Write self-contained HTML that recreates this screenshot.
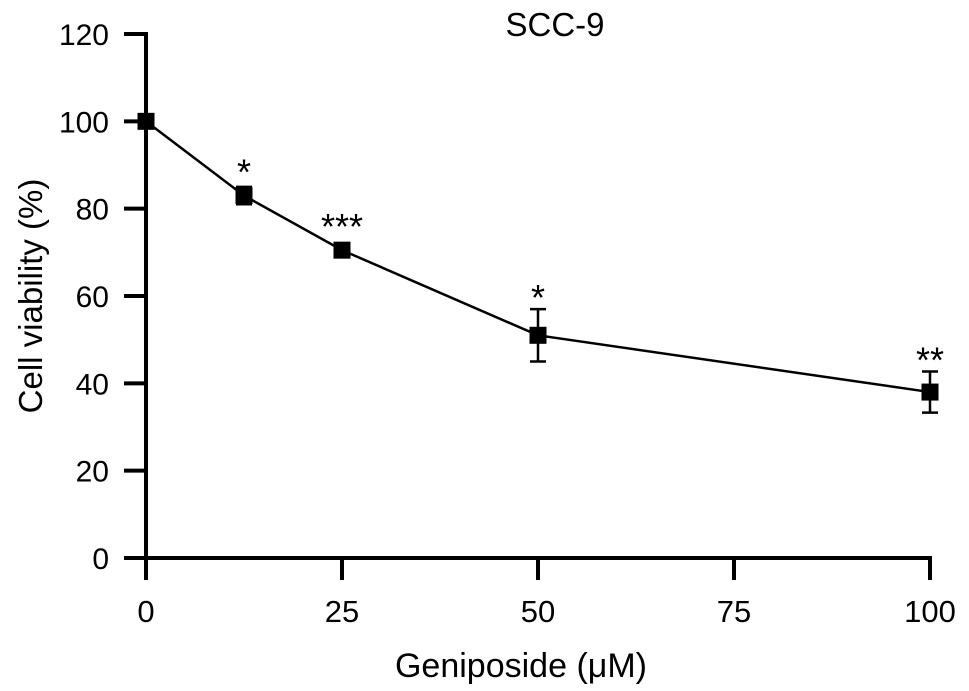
<!DOCTYPE html>
<html><head><meta charset="utf-8">
<style>
html,body{margin:0;padding:0;background:#fff;}
svg{display:block;font-family:"Liberation Sans",Arial,sans-serif;}
</style></head>
<body>
<svg id="chart" width="969" height="691"></svg>
<script>
const doses = [0, 12.5, 25, 50, 100];
const viability = [100, 83, 70.5, 51, 38];
const errors = [0.8, 2, 1, 6, 4.7];
const stars = ["", "*", "***", "*", "**"];
const xTicks = [0, 25, 50, 75, 100];
const yTicks = [0, 20, 40, 60, 80, 100, 120];

const NS = "http://www.w3.org/2000/svg";
const svg = document.getElementById("chart");
const X0 = 146, X1 = 930, Y0 = 558, Y1 = 34;
const xs = v => X0 + (v / 100) * (X1 - X0);
const ys = v => Y0 - (v / 120) * (Y0 - Y1);
function mk(tag, attrs, parent) {
  const e = document.createElementNS(NS, tag);
  for (const k in attrs) e.setAttribute(k, attrs[k]);
  (parent || svg).appendChild(e);
  return e;
}
let e;
e = mk("line", {x1: X0, y1: Y1 - 2, x2: X0, y2: Y0 + 2, stroke: "#000", "stroke-width": 4});


e = mk("line", {x1: X0 - 2, y1: Y0, x2: X1 + 2, y2: Y0, stroke: "#000", "stroke-width": 4});


yTicks.forEach(t => {
  const y = ys(t);
  e = mk("line", {x1: X0 - 22, y1: y, x2: X0, y2: y, stroke: "#000", "stroke-width": 4});
  
  
  e = mk("text", {x: 109, y: y + 11, "text-anchor": "end", "font-size": 30});
  e.textContent = t;
  
  
});
xTicks.forEach(t => {
  const x = xs(t);
  e = mk("line", {x1: x, y1: Y0, x2: x, y2: Y0 + 22, stroke: "#000", "stroke-width": 4});
  
  
  e = mk("text", {x: x, y: 622, "text-anchor": "middle", "font-size": 31});
  e.textContent = t;
  
  
});
e = mk("polyline", {points: doses.map((d, i) => xs(d) + "," + ys(viability[i])).join(" "), fill: "none", stroke: "#000", "stroke-width": 2.5});


doses.forEach((d, i) => {
  const x = xs(d), y = ys(viability[i]);
  const yt = ys(viability[i] + errors[i]), yb = ys(viability[i] - errors[i]);
  e = mk("path", {d: `M${x},${yt}V${yb}M${x-8},${yt}H${x+8}M${x-8},${yb}H${x+8}`, stroke: "#000", "stroke-width": 2.5, fill: "none"});
  
  
  e = mk("rect", {x: x - 8.5, y: y - 8.5, width: 17, height: 17, fill: "#000"});
  
  
  if (stars[i]) {
    const cy = Math.min(yt - 20, y - 32);
    e = mk("text", {x: x, y: cy + 21, "text-anchor": "middle", "font-size": 36});
    e.textContent = stars[i];
    
    
  }
});
e = mk("text", {x: 555, y: 36, "text-anchor": "middle", "font-size": 33});
e.textContent = "SCC-9";


e = mk("text", {x: 521, y: 677, "text-anchor": "middle", "font-size": 34});
e.textContent = "Geniposide (\u03BCM)";


e = mk("text", {x: 0, y: 0, "text-anchor": "middle", "font-size": 33, transform: "translate(42,296) rotate(-90)"});
e.textContent = "Cell viability (%)";


</script>
</body></html>
